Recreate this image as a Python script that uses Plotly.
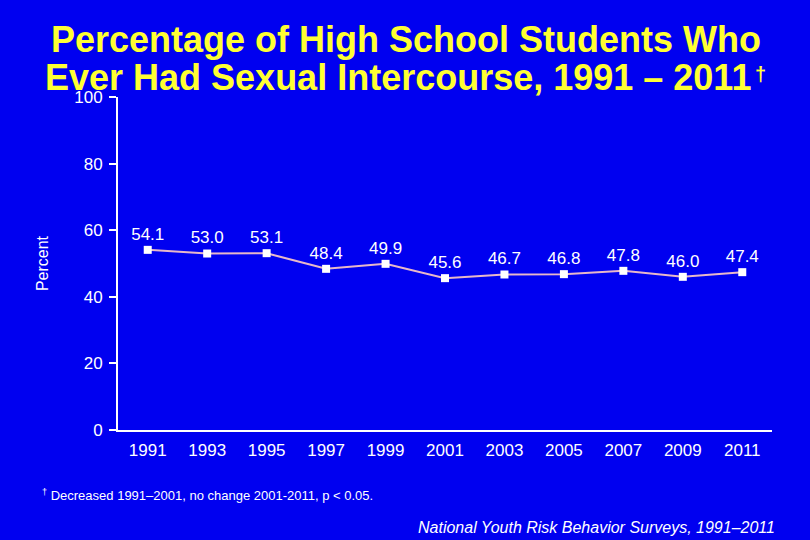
import plotly.graph_objects as go

years = ["1991", "1993", "1995", "1997", "1999", "2001", "2003", "2005", "2007", "2009", "2011"]
percent = [54.1, 53.0, 53.1, 48.4, 49.9, 45.6, 46.7, 46.8, 47.8, 46.0, 47.4]
label_pos = ["top center"] * len(years)

BG = "#0000F0"
FONT = "Liberation Sans, Arial, sans-serif"
YELLOW = "#FFFF33"

fig = go.Figure()
fig.add_trace(go.Scatter(
    x=years, y=percent, mode="lines+markers+text",
    line=dict(color="#E8B8C8", width=2),
    marker=dict(symbol="square", size=8, color="white"),
    text=[f"{v:.1f}" for v in percent], textposition=label_pos,
    textfont=dict(color="white", size=17, family=FONT),
    cliponaxis=False, showlegend=False,
))

fig.update_layout(
    width=810, height=540,
    paper_bgcolor=BG, plot_bgcolor=BG,
    margin=dict(l=118, r=38, t=97, b=110),
    font=dict(family=FONT, color="white"),
    xaxis=dict(
        type="category", range=[-0.5, 10.5],
        showline=True, linecolor="white", linewidth=2,
        showgrid=False, ticks="", zeroline=False,
        tickfont=dict(color="white", size=17),
        ticklabelstandoff=4,
    ),
    yaxis=dict(
        range=[0, 100], tickvals=[0, 20, 40, 60, 80, 100],
        showline=True, linecolor="white", linewidth=2,
        ticks="outside", ticklen=7, tickcolor="white", tickwidth=2,
        showgrid=False, zeroline=False,
        tickfont=dict(color="white", size=17),
        ticklabelstandoff=3,
        title=dict(text="Percent", font=dict(color="white", size=16), standoff=22),
    ),
    annotations=[
        dict(text="<b>Percentage of High School Students Who</b>",
             xref="paper", yref="paper", x=0.44, y=1.172, xanchor="center", yanchor="middle",
             showarrow=False, font=dict(color=YELLOW, size=36)),
        dict(text="<b>Ever Had Sexual Intercourse, 1991 – 2011</b>",
             xref="paper", yref="paper", x=0.428, y=1.06, xanchor="center", yanchor="middle",
             showarrow=False, font=dict(color=YELLOW, size=36)),
        dict(text="<b>†</b>",
             xref="paper", yref="paper", x=0.971, y=1.07, xanchor="left", yanchor="middle",
             showarrow=False, font=dict(color=YELLOW, size=20)),
        dict(text="<sup>†</sup> Decreased 1991–2001, no change 2001-2011, p < 0.05.",
             xref="paper", yref="paper", x=-0.12, y=-0.196, xanchor="left", yanchor="middle",
             showarrow=False, font=dict(color="white", size=13)),
        dict(text="<i>National Youth Risk Behavior Surveys, 1991–2011</i>",
             xref="paper", yref="paper", x=1.008, y=-0.292, xanchor="right", yanchor="middle",
             showarrow=False, font=dict(color="white", size=16)),
    ],
)

fig.write_html("out.html")
